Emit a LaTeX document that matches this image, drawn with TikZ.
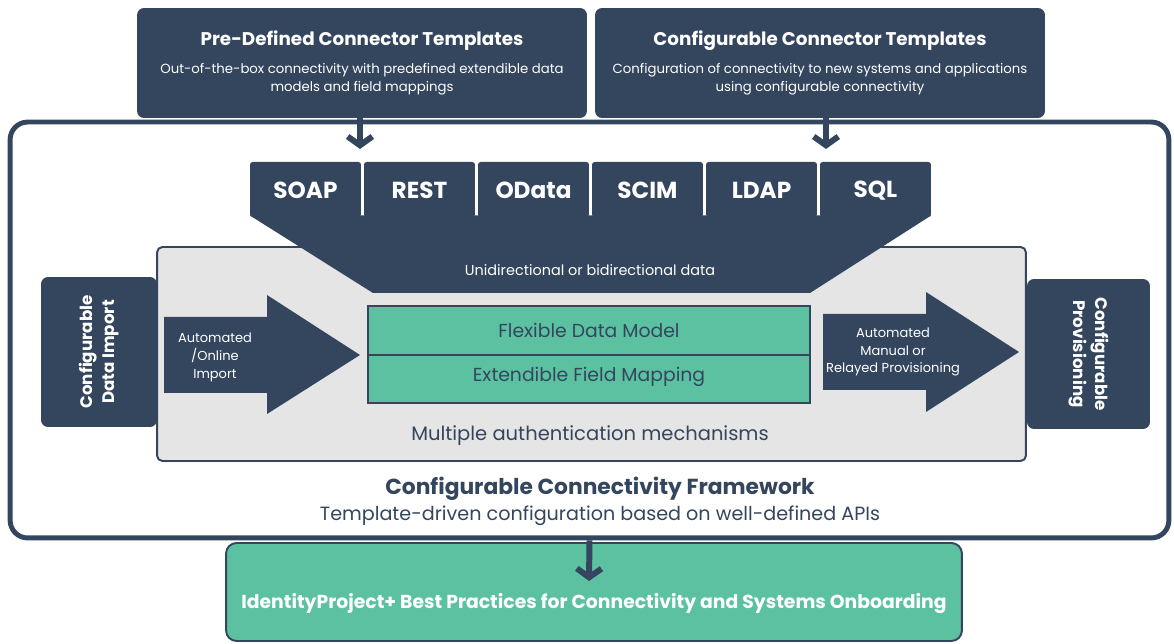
\documentclass[tikz,border=0pt]{standalone}
\usepackage{fontspec}
\setmainfont{Poppins}
\usetikzlibrary{arrows.meta}

\definecolor{navy}{HTML}{34455E}
\definecolor{mint}{HTML}{5CC1A1}
\definecolor{panelgray}{HTML}{E5E5E5}

\newcommand{\hdfont}{\fontsize{10.45}{13}\selectfont\bfseries}
\newcommand{\subfont}{\fontsize{7.55}{10.2}\selectfont}

\begin{document}
\begin{tikzpicture}[x=0.02cm, y=-0.02cm, >=Stealth,
    darkbox/.style={fill=navy, rounded corners=4pt, inner sep=0pt, text=white, align=center},
    protobox/.style={fill=navy, rounded corners=1.5pt, inner sep=0pt, minimum width=2.22cm, minimum height=1.1cm,
      text height=10.6pt, text=white, font=\fontsize{13.2}{16}\selectfont\bfseries},
    mintbox/.style={draw=navy, line width=1.1pt, fill=mint, inner sep=0pt, minimum width=8.84cm,
      text=navy, font=\fontsize{10.7}{12}\selectfont},
    arrowtext/.style={text=white, align=center, font=\fontsize{7.4}{10.2}\selectfont},
    sidetext/.style={darkbox, minimum width=3cm, font=\fontsize{9.5}{12.5}\selectfont\bfseries},
    downarrow/.style={draw=navy, line width=3.4pt, -{Straight Barb[length=5pt,width=14pt]}},
  ]
  \useasboundingbox (0,0) rectangle (1174,644);

  \node[draw=navy, line width=2.8pt, fill=white, rounded corners=10pt,
    minimum width=23.18cm, minimum height=8.32cm] (frame) at (589.5,330) {};

  \node[darkbox, minimum width=9cm, minimum height=2.2cm] (pre) at (362,63) {};
  \node[darkbox, minimum width=9cm, minimum height=2.2cm] (conf) at (820,63) {};
  \node[text=white, font=\hdfont] (pretitle) at (362,41) {Pre-Defined Connector Templates};
  \node[text=white, font=\hdfont] (conftitle) at (820,41) {Configurable Connector Templates};
  \node[text=white, align=center, font=\subfont] (presub) at (362,79.5)
    {Out-of-the-box connectivity with predefined extendible data\\models and field mappings};
  \node[text=white, align=center, font=\subfont] (confsub) at (820,79.5)
    {Configuration of connectivity to new systems and applications\\using configurable connectivity};

  \coordinate (soapin) at (360,149);
  \coordinate (sqlin) at (826,149);
  \draw[downarrow] (pre.south -| soapin) -- (soapin);
  \draw[downarrow] (conf.south -| sqlin) -- (sqlin);

  \node[sidetext, rotate=90, minimum height=2.32cm] (import) at (99,352) {Configurable\\Data Import};
  \node[sidetext, rotate=-90, minimum height=2.46cm] (prov) at (1088.5,354) {Configurable\\Provisioning};

  \node[fill=panelgray, draw=navy, line width=1.1pt, rounded corners=3pt,
    minimum width=17.38cm, minimum height=4.28cm] (panel) at (591.5,354) {};

  \node[protobox] (soap) at (305.5,189.5) {SOAP};
  \node[protobox] (rest) at (419.5,189.5) {REST};
  \node[protobox] (odata) at (533.5,189.5) {OData};
  \node[protobox] (scim) at (647.5,189.5) {SCIM};
  \node[protobox] (ldap) at (761.5,189.5) {LDAP};
  \node[protobox] (sql) at (875.5,189.5) {SQL};
  \fill[navy] ([yshift=0.04cm]soap.south west) -- ([yshift=0.04cm]sql.south east) -- (810,293) -- (373,293) -- cycle;
  \node[text=white, font=\fontsize{8.2}{10}\selectfont] (uni) at (590,270) {Unidirectional or bidirectional data};

  \fill[navy] (164,317) -- (267,317) -- (267,295) -- (360,355) -- (267,414) -- (267,393) -- (164,393) -- cycle;
  \fill[navy] (823,314) -- (926,314) -- (926,292) -- (1019,352) -- (926,412) -- (926,390) -- (823,390) -- cycle;
  \node[arrowtext] (imptxt) at (215,357) {Automated\\/Online\\Import};
  \node[arrowtext] (provtxt) at (893,352) {Automated\\Manual or\\Relayed Provisioning};

  \node[mintbox, minimum height=0.98cm] (model) at (589,330.5) {Flexible Data Model};
  \node[mintbox, minimum height=0.96cm, text depth=5.2pt] (mapping) at (589,379) {Extendible Field Mapping};

  \node[text=navy, font=\fontsize{11.1}{13}\selectfont] (auth) at (590,436) {Multiple authentication mechanisms};
  \node[text=navy, font=\fontsize{12.4}{15}\selectfont\bfseries] (fwtitle) at (600,489) {Configurable Connectivity Framework};
  \node[text=navy, font=\fontsize{10.9}{13}\selectfont] (fwsub) at (600,516) {Template-driven configuration based on well-defined APIs};

  \node[draw=navy, line width=1.1pt, fill=mint, rounded corners=6pt,
    minimum width=14.72cm, minimum height=1.96cm] (best) at (594,592) {};
  \node[text=white, font=\fontsize{10.7}{13}\selectfont\bfseries] (besttxt) at (594,604)
    {IdentityProject+ Best Practices for Connectivity and Systems Onboarding};
  \coordinate (bestin) at (589,581);
  \draw[downarrow] (frame.south) -- (bestin);
\end{tikzpicture}
\end{document}
